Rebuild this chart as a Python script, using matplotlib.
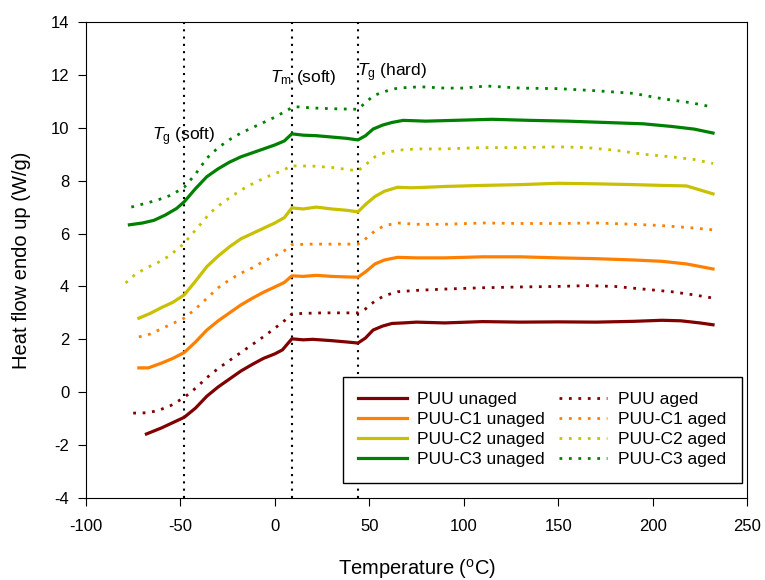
import matplotlib
matplotlib.use("Agg")
import matplotlib.pyplot as plt

plt.rcParams['font.family'] = ['Liberation Sans', 'DejaVu Sans']
plt.rcParams['mathtext.fontset'] = 'custom'
plt.rcParams['mathtext.rm'] = 'Liberation Sans'
plt.rcParams['mathtext.it'] = 'Liberation Sans:italic'
plt.rcParams['axes.unicode_minus'] = False

# ---- data ----
puu_unaged_x = [-68, -60, -54, -48, -42, -36, -30, -24, -18, -12, -6, 0, 4, 9, 15, 20, 30, 38, 44, 48, 52, 57, 62, 68, 75, 90, 110, 130, 150, 170, 190, 205, 215, 225, 232]
puu_unaged_y = [-1.58, -1.35, -1.15, -0.95, -0.6, -0.15, 0.2, 0.5, 0.8, 1.05, 1.28, 1.45, 1.6, 2.02, 1.98, 2.0, 1.95, 1.9, 1.86, 2.05, 2.35, 2.5, 2.6, 2.62, 2.65, 2.62, 2.67, 2.65, 2.66, 2.65, 2.68, 2.72, 2.7, 2.62, 2.55]

puu_aged_x = [-75, -68, -62, -55, -48, -42, -36, -30, -24, -18, -12, -6, 0, 5, 9, 15, 25, 35, 44, 48, 53, 58, 65, 75, 90, 110, 130, 150, 165, 180, 195, 210, 222, 232]
puu_aged_y = [-0.79, -0.78, -0.7, -0.5, -0.2, 0.15, 0.55, 0.9, 1.2, 1.5, 1.8, 2.1, 2.42, 2.7, 2.96, 2.98, 3.0, 3.0, 3.0, 3.15, 3.45, 3.65, 3.8, 3.85, 3.9, 3.95, 3.98, 4.0, 4.03, 4.0, 3.9, 3.8, 3.68, 3.56]

c1_unaged_x = [-72, -67, -60, -54, -48, -42, -36, -30, -24, -18, -12, -6, 0, 5, 9, 15, 22, 30, 38, 44, 48, 53, 58, 65, 75, 90, 110, 130, 150, 170, 190, 205, 218, 232]
c1_unaged_y = [0.92, 0.92, 1.1, 1.28, 1.5, 1.9, 2.35, 2.7, 3.0, 3.3, 3.55, 3.78, 3.98, 4.15, 4.4, 4.38, 4.42, 4.38, 4.36, 4.35, 4.55, 4.85, 5.0, 5.1, 5.08, 5.08, 5.12, 5.12, 5.08, 5.05, 5.0, 4.95, 4.85, 4.66]

c1_aged_x = [-72, -66, -60, -54, -48, -42, -36, -30, -24, -18, -12, -6, 0, 5, 9, 20, 30, 44, 48, 53, 58, 65, 75, 90, 110, 130, 150, 170, 190, 205, 220, 232]
c1_aged_y = [2.09, 2.2, 2.4, 2.6, 2.8, 3.15, 3.55, 3.95, 4.25, 4.5, 4.7, 4.95, 5.15, 5.35, 5.58, 5.6, 5.6, 5.6, 5.8, 6.1, 6.3, 6.4, 6.35, 6.35, 6.4, 6.38, 6.38, 6.4, 6.35, 6.3, 6.22, 6.14]

c2_unaged_x = [-72, -66, -60, -54, -48, -42, -36, -30, -24, -18, -12, -6, 0, 5, 9, 15, 22, 30, 38, 44, 48, 53, 58, 65, 72, 80, 90, 110, 130, 150, 170, 190, 205, 218, 232]
c2_unaged_y = [2.8, 2.98, 3.2, 3.4, 3.68, 4.2, 4.75, 5.15, 5.5, 5.8, 6.0, 6.2, 6.4, 6.6, 6.97, 6.93, 7.0, 6.93, 6.88, 6.82, 7.1, 7.4, 7.6, 7.75, 7.73, 7.75, 7.78, 7.82, 7.85, 7.9, 7.88, 7.85, 7.82, 7.8, 7.5]

c2_aged_x = [-79, -74, -68, -62, -56, -50, -46, -40, -34, -28, -22, -16, -10, -4, 3, 9, 20, 30, 44, 48, 53, 58, 65, 75, 90, 110, 130, 150, 165, 180, 195, 210, 222, 232]
c2_aged_y = [4.13, 4.45, 4.7, 4.9, 5.15, 5.5, 5.8, 6.3, 6.8, 7.15, 7.45, 7.72, 7.95, 8.15, 8.35, 8.56, 8.55, 8.5, 8.37, 8.6, 8.9, 9.05, 9.15, 9.2, 9.2, 9.25, 9.25, 9.28, 9.25, 9.15, 9.0, 8.9, 8.8, 8.65]

c3_unaged_x = [-77, -70, -64, -58, -52, -48, -42, -36, -30, -24, -18, -12, -6, 0, 5, 9, 15, 22, 30, 38, 44, 48, 52, 57, 62, 68, 80, 95, 115, 135, 155, 175, 195, 210, 222, 232]
c3_unaged_y = [6.33, 6.4, 6.5, 6.7, 6.95, 7.2, 7.7, 8.15, 8.45, 8.7, 8.9, 9.05, 9.2, 9.35, 9.5, 9.77, 9.72, 9.7, 9.65, 9.6, 9.54, 9.7, 9.95, 10.1, 10.2, 10.28, 10.25, 10.28, 10.32, 10.28, 10.25, 10.2, 10.15, 10.05, 9.95, 9.8]

c3_aged_x = [-76, -68, -62, -55, -48, -42, -36, -30, -24, -18, -12, -6, 0, 5, 10, 20, 30, 44, 48, 52, 57, 65, 77, 90, 100, 112, 130, 150, 170, 190, 205, 220, 232]
c3_aged_y = [7.0, 7.15, 7.27, 7.45, 7.75, 8.25, 8.85, 9.25, 9.55, 9.8, 10.0, 10.2, 10.4, 10.6, 10.8, 10.75, 10.72, 10.7, 10.95, 11.2, 11.35, 11.5, 11.55, 11.5, 11.5, 11.58, 11.5, 11.48, 11.4, 11.3, 11.1, 10.95, 10.78]

transition_temps = [-48, 9, 44]
transition_labels = [r'$T_\mathrm{g}$ (soft)', r'$T_\mathrm{m}$ (soft)', r'$T_\mathrm{g}$ (hard)']
label_pos = [(-65, 9.65), (-2.5, 11.9), (43.5, 12.1)]

x_ticks = [-100, -50, 0, 50, 100, 150, 200, 250]
y_ticks = [-4, -2, 0, 2, 4, 6, 8, 10, 12, 14]

colors = {'PUU': '#800000', 'PUU-C1': '#FF8000', 'PUU-C2': '#C8C000', 'PUU-C3': '#008000'}

# ---- figure ----
fig = plt.figure(figsize=(7.65, 5.80), dpi=100)
ax = fig.add_axes([0.1124, 0.1414, 0.8641, 0.8207])

for t in transition_temps:
    ax.axvline(t, color='black', linestyle=(0, (1, 2.5)), linewidth=1.5, zorder=1)

series = [
    ('PUU', puu_unaged_x, puu_unaged_y, puu_aged_x, puu_aged_y),
    ('PUU-C1', c1_unaged_x, c1_unaged_y, c1_aged_x, c1_aged_y),
    ('PUU-C2', c2_unaged_x, c2_unaged_y, c2_aged_x, c2_aged_y),
    ('PUU-C3', c3_unaged_x, c3_unaged_y, c3_aged_x, c3_aged_y),
]
solid_handles, dot_handles = [], []
for name, ux, uy, ax_, ay in series:
    c = colors[name]
    h1, = ax.plot(ux, uy, color=c, linewidth=2.3, label=f'{name} unaged', zorder=3)
    h2, = ax.plot(ax_, ay, color=c, linewidth=2.0, linestyle=(0, (1, 2.4)), label=f'{name} aged', zorder=3)
    solid_handles.append(h1)
    dot_handles.append(h2)

for lab, (tx, ty) in zip(transition_labels, label_pos):
    ax.text(tx, ty, lab, fontsize=12.5, ha='left', va='center')

ax.set_xlim(-100, 250)
ax.set_ylim(-4, 14)
ax.set_xticks(x_ticks)
ax.set_yticks(y_ticks)
ax.tick_params(direction='out', length=6, labelsize=12, top=False, right=False)
ax.tick_params(axis='x', pad=9)
ax.tick_params(axis='y', pad=6)
ax.set_xlabel(r'Temperature ($^\mathrm{o}$C)', fontsize=14.5, labelpad=17)
ax.set_ylabel('Heat flow endo up (W/g)', fontsize=14.5, labelpad=14)

leg = ax.legend(solid_handles + dot_handles,
                [h.get_label() for h in solid_handles + dot_handles],
                ncol=2, loc='lower right', bbox_to_anchor=(0.992, 0.0315),
                borderaxespad=0,
                fontsize=12.5, frameon=True, fancybox=False, edgecolor='black',
                framealpha=1, labelspacing=0.28, handlelength=2.8,
                handletextpad=0.6, columnspacing=0.8, borderpad=0.9)
leg.get_frame().set_linewidth(1.0)

fig.savefig('out.png', dpi=100)
